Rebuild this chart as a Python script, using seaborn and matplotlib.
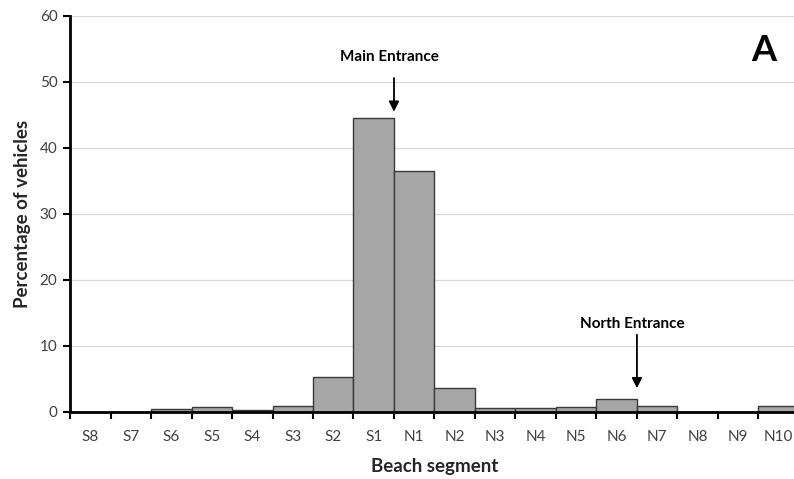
import numpy as np
import pandas as pd
import matplotlib
matplotlib.use("Agg")
import matplotlib.pyplot as plt
import seaborn as sns

segments = ["S8", "S7", "S6", "S5", "S4", "S3", "S2", "S1", "N1", "N2",
            "N3", "N4", "N5", "N6", "N7", "N8", "N9", "N10"]
percent = [0.0, 0.0, 0.45, 0.8, 0.25, 0.95, 5.3, 44.6, 36.5, 3.7,
           0.55, 0.55, 0.7, 1.95, 0.95, 0.0, 0.0, 0.95]
y_ticks = [0, 10, 20, 30, 40, 50, 60]

sns.set_theme(style="white")
plt.rcParams["font.family"] = ["Lato", "DejaVu Sans"]

df = pd.DataFrame({"segment": segments, "pct": percent})

fig = plt.figure(figsize=(7.94, 4.79), dpi=100)
ax = fig.add_axes([0.0882, 0.1399, 0.918, 0.8267])

sns.barplot(data=df, x="segment", y="pct", order=segments, width=1.0,
            color="#A6A6A6", edgecolor="#3A3A3A", linewidth=1.0,
            saturation=1, ax=ax, zorder=3)

ax.set_xlim(-0.5, len(segments) - 0.5)
ax.set_ylim(0, 60)
ax.set_yticks(y_ticks)
ax.set_yticklabels([str(v) for v in y_ticks], fontsize=11, color="#404040")
ax.yaxis.grid(True, color="#D9D9D9", linewidth=0.9, zorder=0)
ax.xaxis.grid(False)

ax.set_xticks(np.arange(-0.5, len(segments), 1.0))
ax.set_xticklabels([""] * (len(segments) + 1))
ax.set_xticks(np.arange(len(segments)), minor=True)
ax.set_xticklabels(segments, minor=True, fontsize=11, color="#404040")
ax.tick_params(axis="x", which="major", direction="out", length=5, width=1.5,
               color="black", bottom=True)
ax.tick_params(axis="x", which="minor", length=0, pad=13)
ax.tick_params(axis="y", direction="out", length=5, width=1.5, color="black",
               left=True, pad=4)

for s in ["top", "right"]:
    ax.spines[s].set_visible(False)
ax.spines["left"].set_color("black")
ax.spines["left"].set_linewidth(2)
ax.spines["bottom"].set_color("black")
ax.spines["bottom"].set_linewidth(2)
ax.spines["left"].set_zorder(5)
ax.spines["bottom"].set_zorder(5)

ax.set_xlabel("Beach segment", fontsize=13.5, fontweight="bold", labelpad=10)
ax.set_ylabel("Percentage of vehicles", fontsize=13.5, fontweight="bold", labelpad=6)

ax.annotate("", xy=(7.5, 45.5), xytext=(7.5, 50.6),
            arrowprops=dict(arrowstyle="-|>", color="black", lw=1.3,
                            mutation_scale=15, shrinkA=0, shrinkB=0), zorder=6)
ax.text(7.4, 53.8, "Main Entrance", ha="center", va="center", fontsize=11,
        fontweight="bold", color="black", zorder=6)

ax.annotate("", xy=(13.5, 3.6), xytext=(13.5, 11.7),
            arrowprops=dict(arrowstyle="-|>", color="black", lw=1.3,
                            mutation_scale=15, shrinkA=0, shrinkB=0), zorder=6)
ax.text(13.38, 13.3, "North Entrance", ha="center", va="center", fontsize=11,
        fontweight="bold", color="black", zorder=6)

fig.text(0.962, 0.895, "A", ha="center", va="center", fontsize=26,
         fontweight="bold", color="black",
         bbox=dict(facecolor="white", edgecolor="none", pad=6), zorder=10)

fig.savefig("out.png", dpi=100)
